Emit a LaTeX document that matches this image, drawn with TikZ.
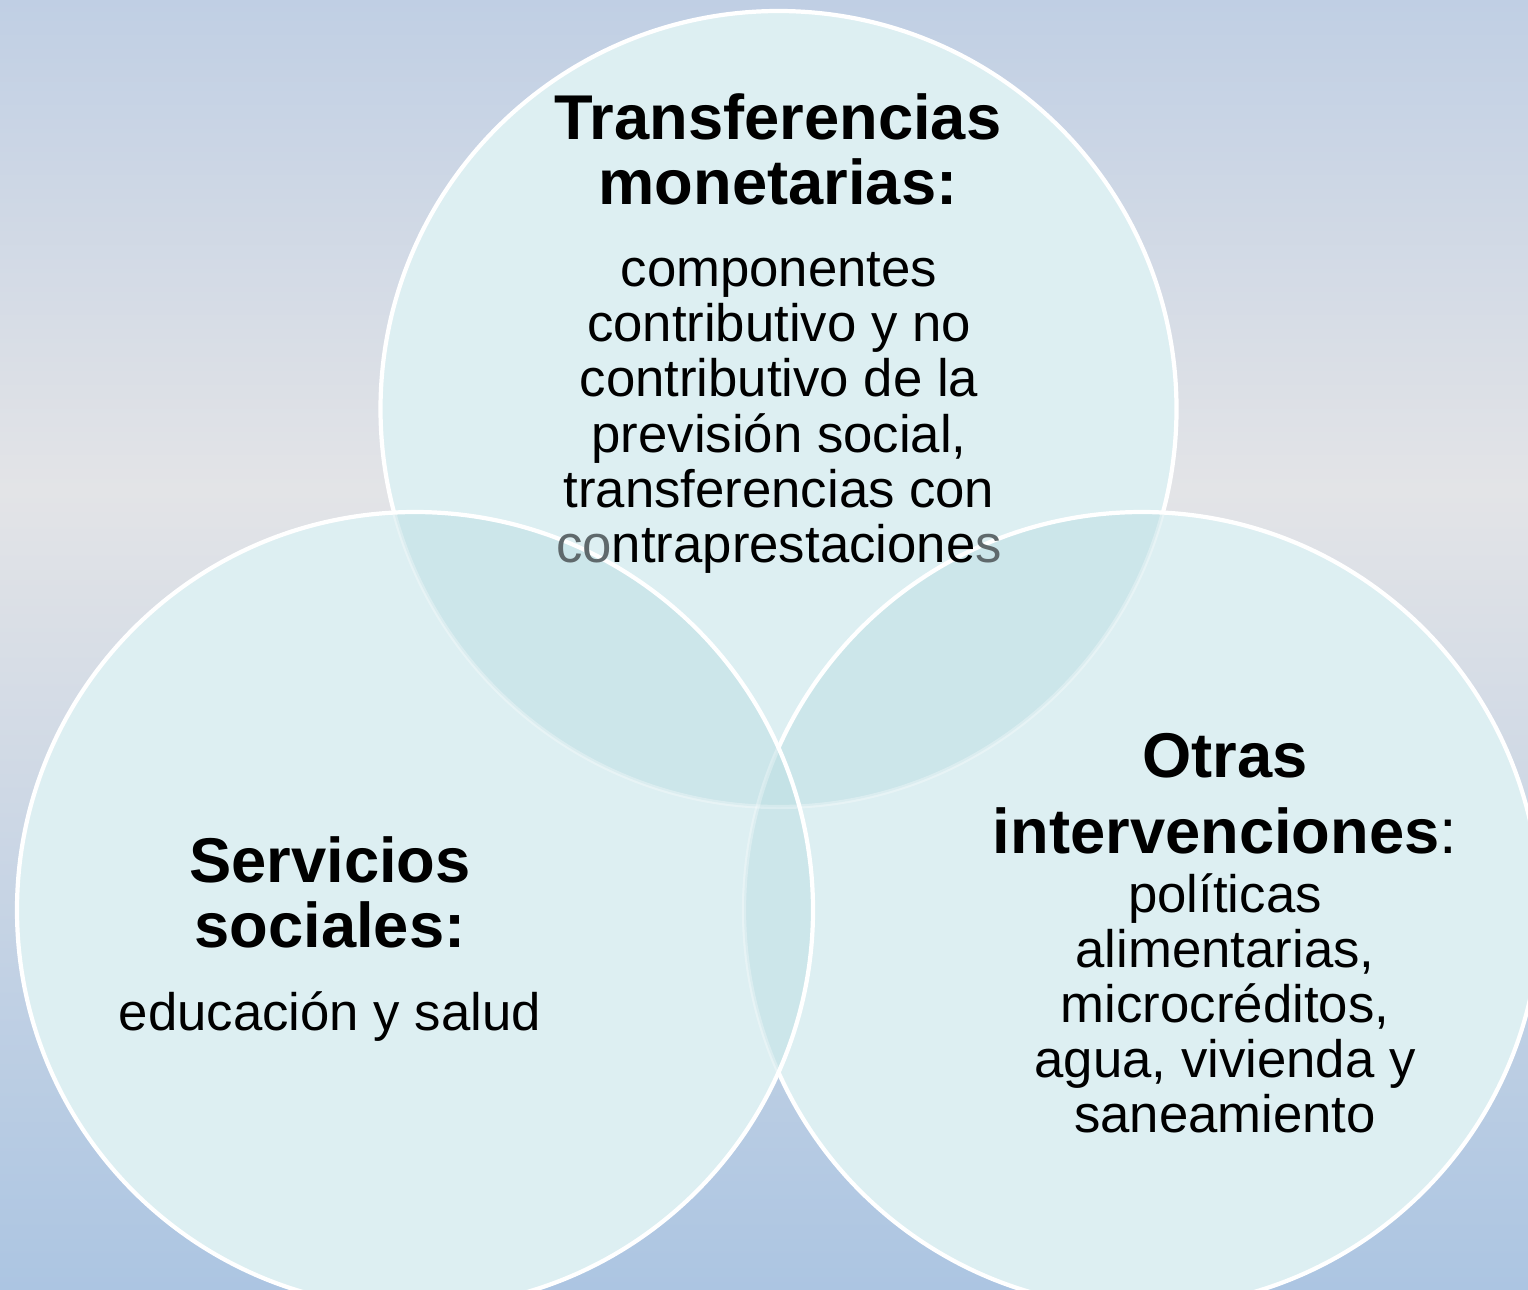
\documentclass[tikz,border=0pt]{standalone}
\usepackage{fontspec}
\setmainfont{Liberation Sans}
\definecolor{vennfill}{RGB}{221,239,242}
\definecolor{vennovl}{RGB}{204,230,234}
\definecolor{venntri}{RGB}{196,226,230}
\definecolor{bgtop}{RGB}{192,207,228}
\definecolor{bgmid}{RGB}{227,228,231}
\definecolor{bgbot}{RGB}{172,197,226}
\definecolor{fadetext}{RGB}{95,105,108}
\usetikzlibrary{positioning}
\pgfdeclareverticalshading{vennbg}{100bp}{color(0bp)=(bgbot); color(25bp)=(bgbot); color(56bp)=(bgmid); color(75bp)=(bgtop); color(100bp)=(bgtop)}

\begin{document}
\begin{tikzpicture}[
    circfill/.style={fill=vennfill},
    ovlfill/.style={fill=vennovl},
    trifill/.style={fill=venntri},
    rim/.style={draw=white, line width=1.2pt},
    hiddenrim/.style={draw=white, line width=1.2pt, opacity=0.3},
    head/.style={font=\fontsize{18}{18.4}\selectfont\bfseries, align=center, anchor=base, inner sep=0pt},
    body/.style={font=\fontsize{15}{15.65}\selectfont, align=center, anchor=base, inner sep=0pt}]

    \def\vennrad{3.98}

    % Background
    \useasboundingbox (0,0) rectangle (15.28,12.89);
    \shade[shading=vennbg] (0,0) rectangle (15.28,12.89);

    % Circle centres
    \coordinate (ctop) at (7.785,8.80);
    \coordinate (cleft) at (4.15,3.79);
    \coordinate (cright) at (11.42,3.79);

    % Transferencias circle
    \fill[circfill] (ctop) circle (\vennrad);
    \draw[rim] (ctop) circle (\vennrad);

    % Otras circle
    \fill[circfill] (cright) circle (\vennrad);
    \begin{scope}
        \clip (cright) circle (\vennrad);
        \fill[ovlfill] (ctop) circle (\vennrad);
        \draw[hiddenrim] (ctop) circle (\vennrad);
    \end{scope}
    \draw[rim] (cright) circle (\vennrad);

    % Servicios circle
    \fill[circfill] (cleft) circle (\vennrad);
    \begin{scope}
        \clip (cleft) circle (\vennrad);
        \fill[ovlfill] (ctop) circle (\vennrad);
        \fill[ovlfill] (cright) circle (\vennrad);
        \begin{scope}
            \clip (ctop) circle (\vennrad);
            \fill[trifill] (cright) circle (\vennrad);
        \end{scope}
        \draw[hiddenrim] (ctop) circle (\vennrad);
        \draw[hiddenrim] (cright) circle (\vennrad);
    \end{scope}
    \draw[rim] (cleft) circle (\vennrad);

    % Labels (placed at the baseline of their last line)
    \node[head] (transhead) at (7.78,10.85) {Transferencias\\monetarias:};
    \node[body] (transbody) at (7.79,7.27) {componentes\\contributivo y no\\contributivo de la\\previsión social,\\transferencias con\\{\color{fadetext}co}ntraprestacione{\color{fadetext}s}};

    \node[head] (servhead) at (3.30,3.42) {Servicios\\sociales:};
    \node[body] (servbody) at (3.30,2.59) {educación y salud};

    \node[head] (otrashead) at (12.25,4.36) {Otras\\[3pt]intervenciones{\mdseries:}};
    \node[body] (otrasbody) at (12.25,1.57) {políticas\\alimentarias,\\microcréditos,\\agua, vivienda y\\saneamiento};
\end{tikzpicture}
\end{document}
